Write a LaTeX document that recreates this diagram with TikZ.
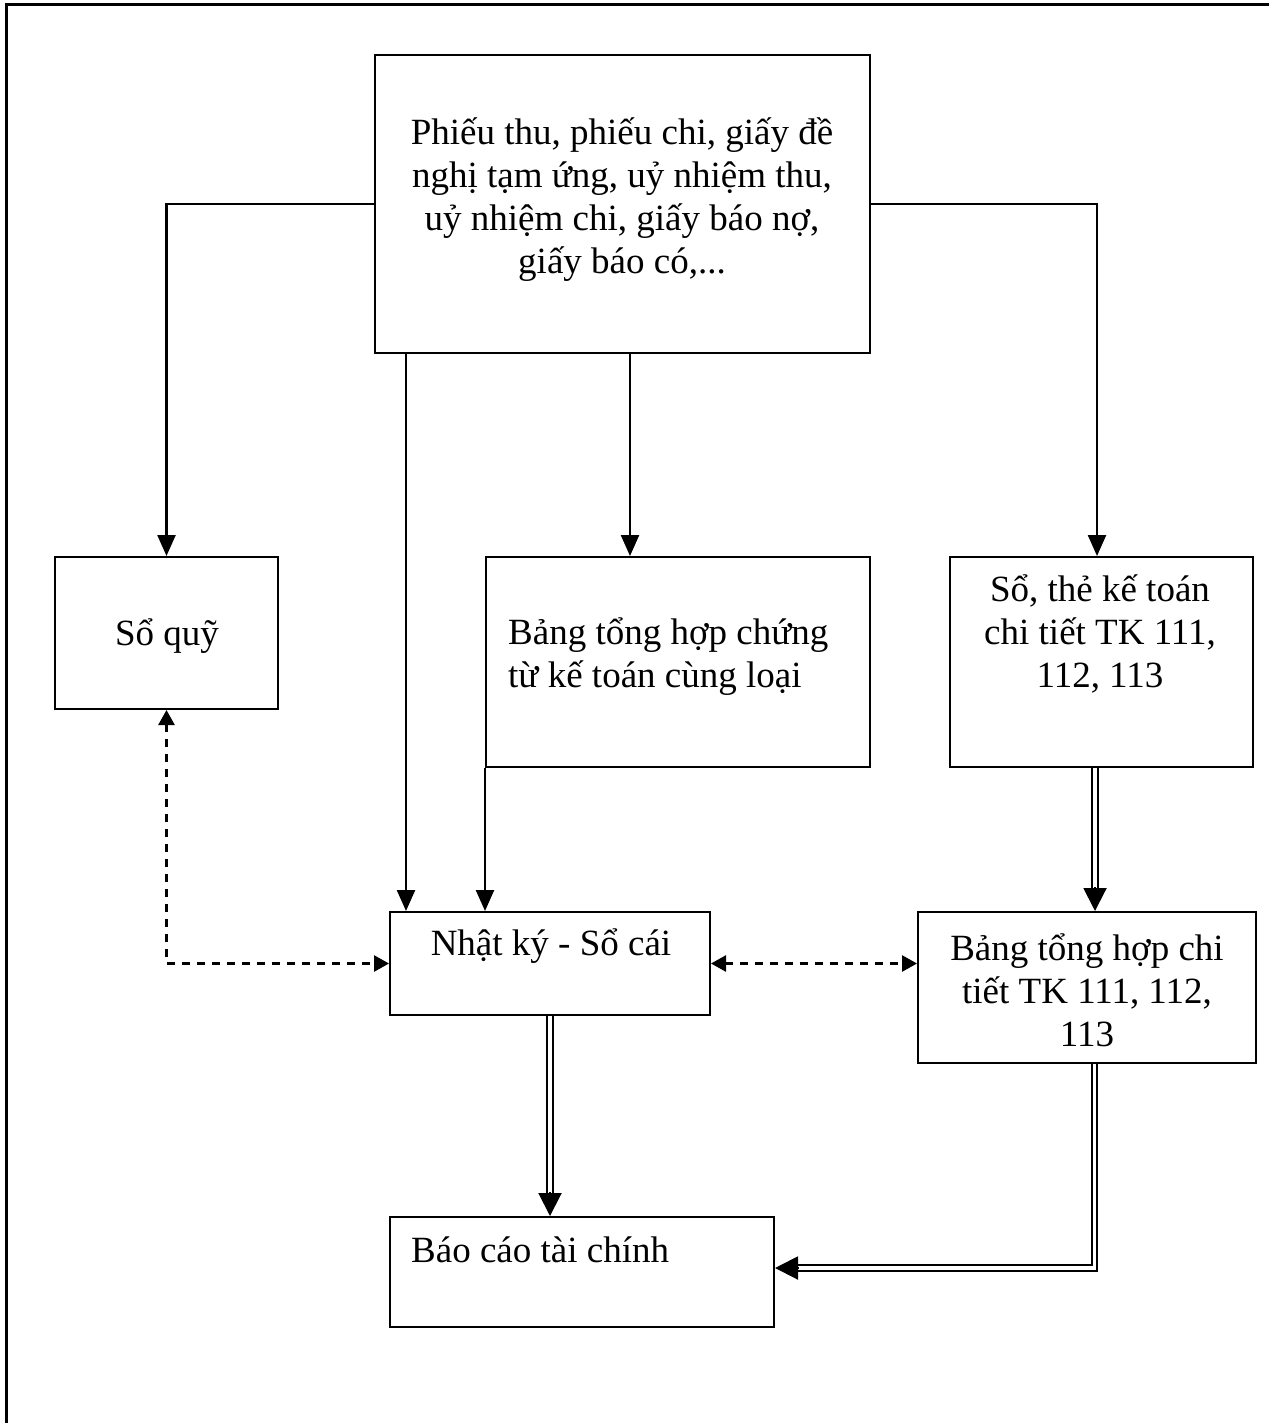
\documentclass[tikz,border=0pt]{standalone}
\usepackage{fontspec}
\setmainfont{Liberation Serif}
\usetikzlibrary{arrows.meta,calc}
\begin{document}
\begin{tikzpicture}[x=1pt,y=-1pt,
  box/.style={draw, line width=2pt, inner sep=0pt},
  txt/.style={inner sep=0pt, font=\fontsize{37}{43}\selectfont, align=center},
  arr/.style={line width=2.4pt, -{Triangle[length=21pt,width=18pt]}},
  darr/.style={line width=2.6pt, dash pattern=on 8pt off 7pt,
    {Triangle[length=15pt,width=16pt]}-{Triangle[length=15pt,width=16pt]}},
  dbl/.style={line width=2.2pt, double distance=3.5pt},
  dtip/.style={line width=2pt, -{Triangle[length=23pt,width=23pt]}}]
\useasboundingbox (0,0) rectangle (1268,1423);
\draw[line width=3pt] (1270,5) -- (6,5) -- (6,1425);

% boxes
\node[box, minimum width=495pt, minimum height=298pt] (top) at (622.5,204) {};
\node[box, minimum width=223pt, minimum height=152pt] (soquy) at (166.5,633) {};
\node[box, minimum width=384pt, minimum height=210pt] (bangct) at (678,662) {};
\node[box, minimum width=303pt, minimum height=210pt] (sothe) at (1101.5,662) {};
\node[box, minimum width=320pt, minimum height=103pt] (nk) at (550,963.5) {};
\node[box, minimum width=338pt, minimum height=151pt] (bct) at (1087,987.5) {};
\node[box, minimum width=384pt, minimum height=110pt] (bc) at (582,1272) {};

% texts
\node[txt] (t0) at (622,200) {Phiếu thu, phiếu chi, giấy đề\\nghị tạm ứng, uỷ nhiệm thu,\\uỷ nhiệm chi, giấy báo nợ,\\giấy báo có,...};
\node[txt] (t1) at (167,636) {Sổ quỹ};
\node[txt, anchor=west, align=left] (t2) at (508,657) {Bảng tổng hợp chứng\\từ kế toán cùng loại};
\node[txt] (t3) at (1100,634) {Sổ, thẻ kế toán\\chi tiết TK 111,\\112, 113};
\node[txt] (t4) at (551,946) {Nhật ký - Sổ cái};
\node[txt] (t5) at (1087,990) {Bảng tổng hợp chi\\tiết TK 111, 112,\\113};
\node[txt, anchor=west] (t6) at (411,1250) {Báo cáo tài chính};

% connectors
\draw[arr] (top.west) -| (soquy.north);
\coordinate (c1) at ([xshift=-4.5pt]sothe.north);
\draw[arr] (top.east) -| (c1);
\coordinate (c2) at ([xshift=7.5pt]top.south);
\draw[arr] (c2) -- (c2 |- bangct.north);
\coordinate (c3) at ([xshift=-216.5pt]top.south);
\draw[arr] (c3) -- (c3 |- nk.north);
\draw[arr] (bangct.south west) -- (bangct.south west |- nk.north);

\draw[darr] (soquy.south) |- (nk.west);
\draw[darr] (nk.east) -- (nk.east -| bct.west);

\coordinate (d1) at ([xshift=-6.5pt]sothe.south);
\draw[dbl] (d1) -- ($(d1 |- bct.north)+(0,-18)$);
\draw[dtip] ($(d1 |- bct.north)+(0,-24)$) -- (d1 |- bct.north);

\draw[dbl] (nk.south) -- ($(nk.south |- bc.north)+(0,-18)$);
\draw[dtip] ($(nk.south |- bc.north)+(0,-24)$) -- (nk.south |- bc.north);

\coordinate (d3) at ([xshift=7.5pt]bct.south);
\coordinate (d4) at ([yshift=4pt]bc.east);
\draw[dbl] (d3) |- ($(d4)+(18,0)$);
\draw[dtip] ($(d4)+(24,0)$) -- (d4);
\end{tikzpicture}
\end{document}
